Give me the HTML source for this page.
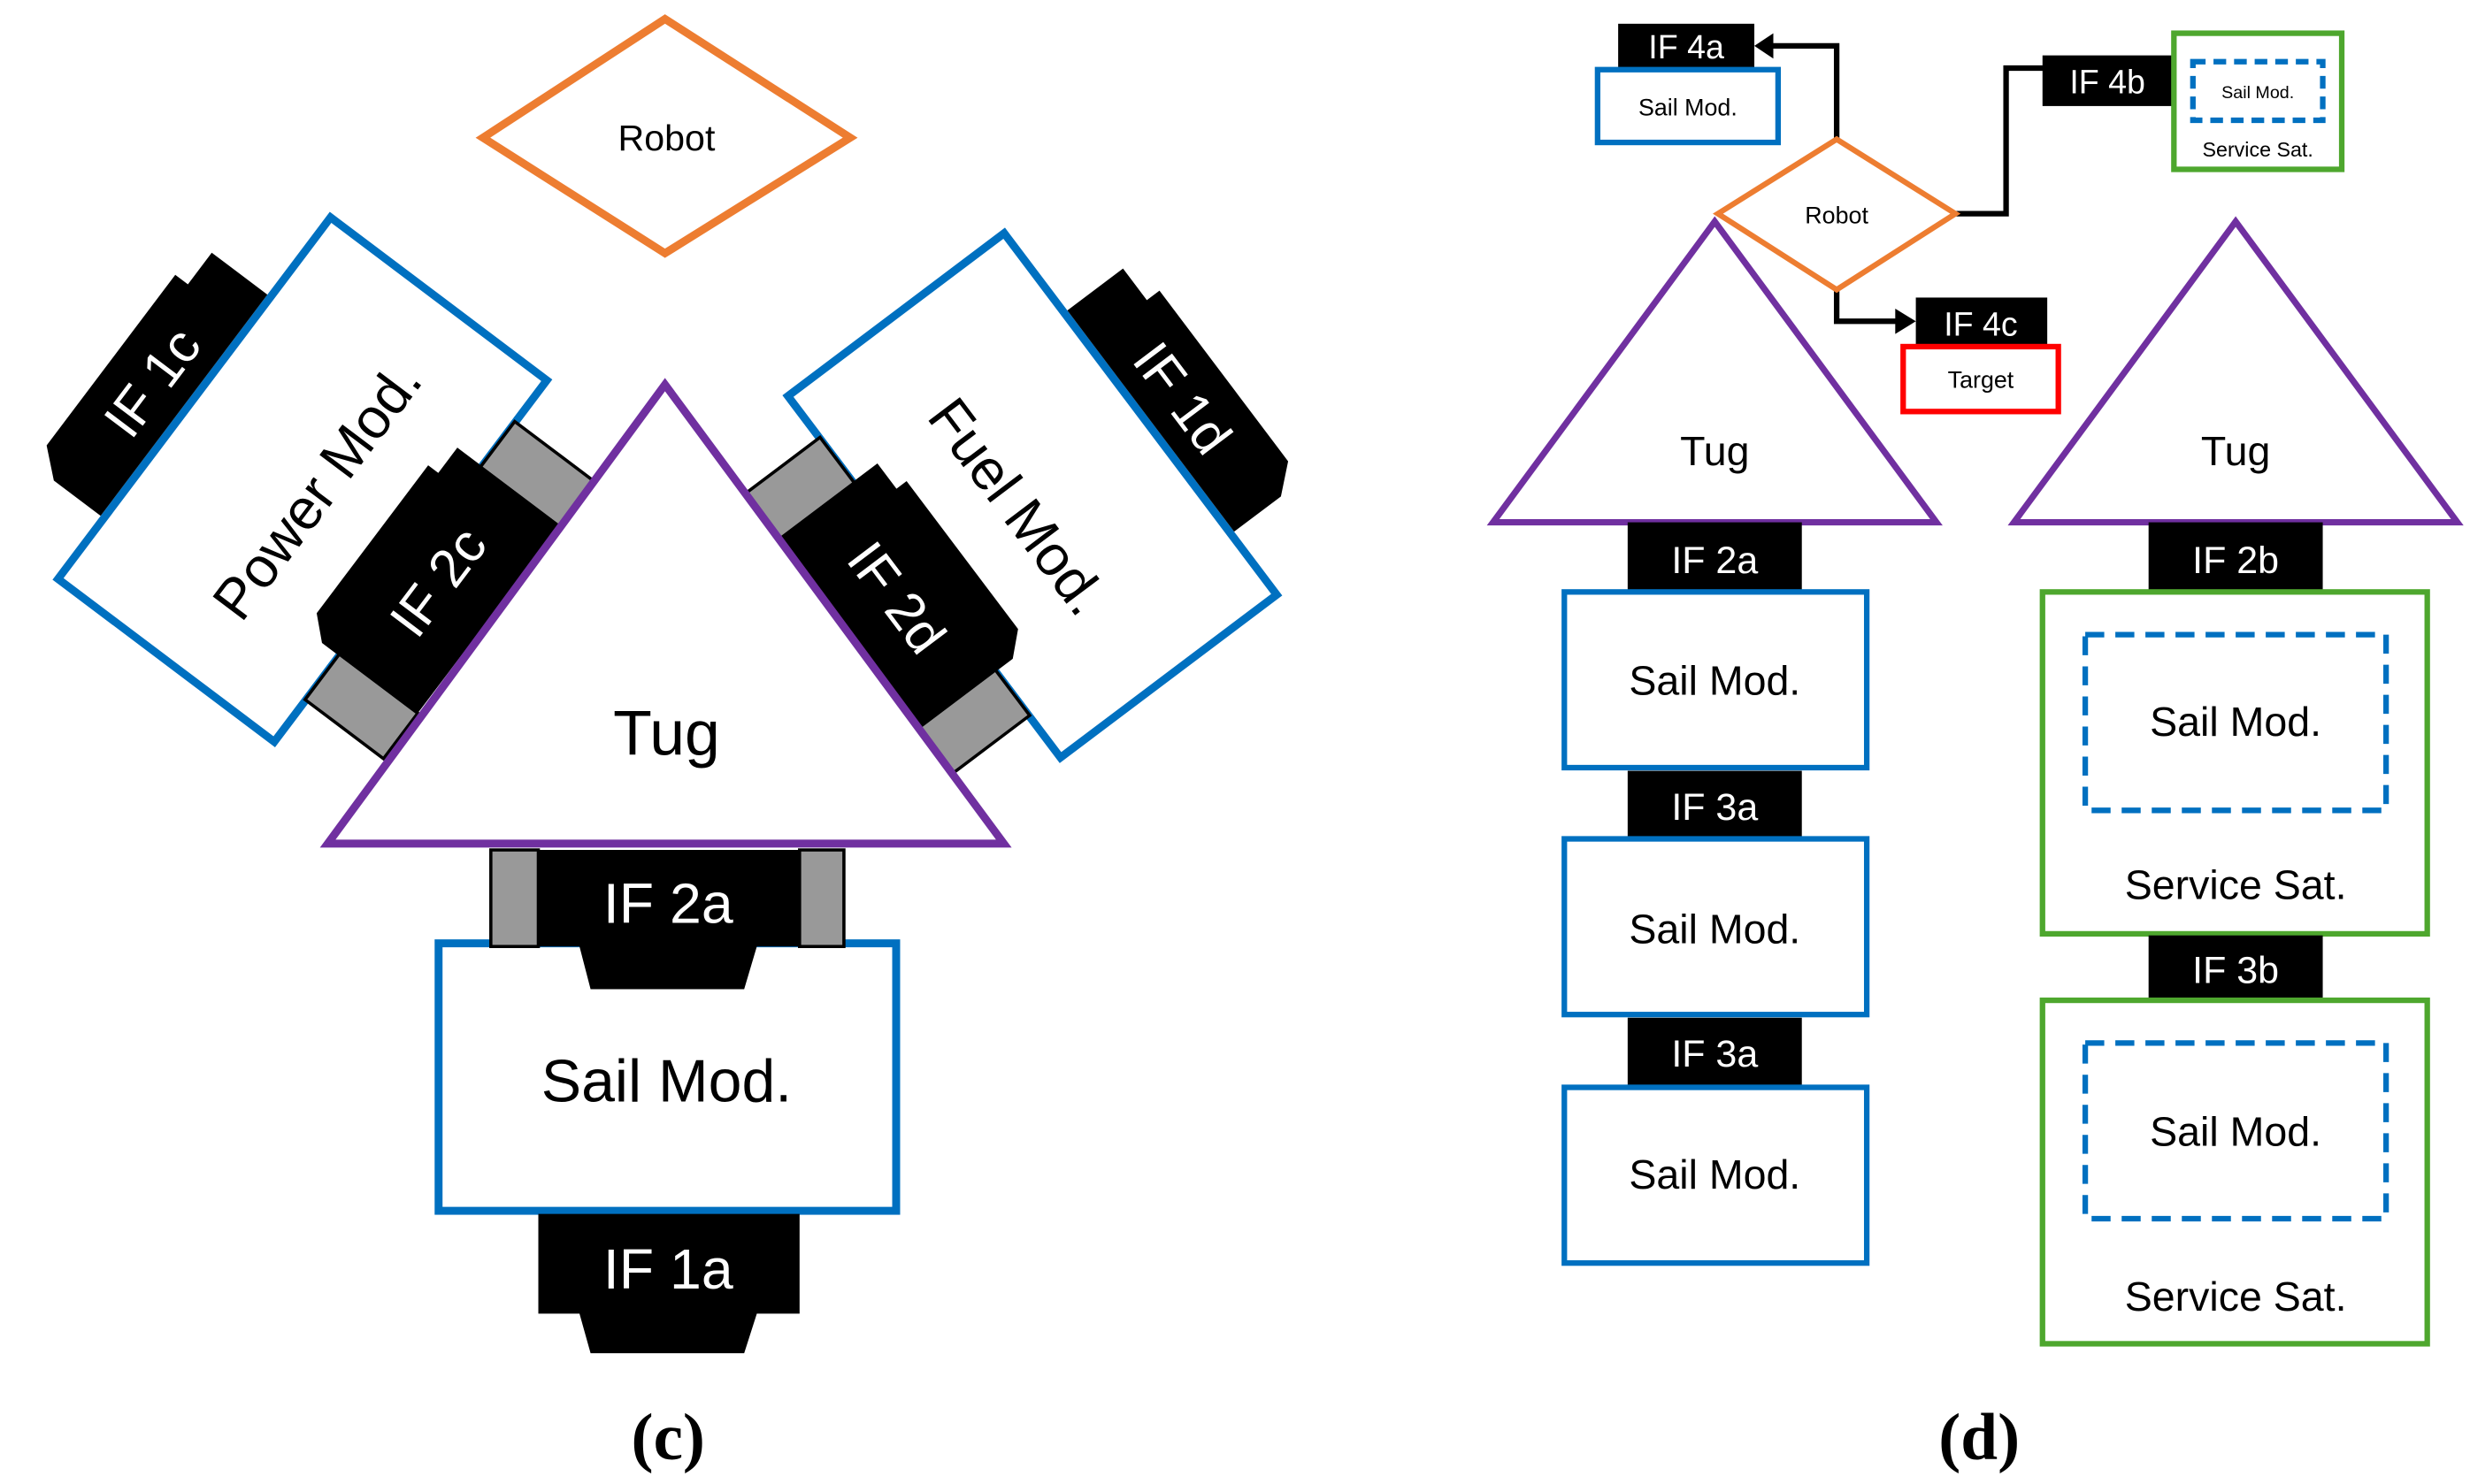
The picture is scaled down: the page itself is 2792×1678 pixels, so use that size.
<!DOCTYPE html>
<html><head><meta charset="utf-8"><style>
html,body{margin:0;padding:0;background:#fff;}
svg{display:block;}
text{font-family:"Liberation Sans",sans-serif;}
</style></head><body>
<svg width="2792" height="1678" viewBox="0 0 1560 937.6" preserveAspectRatio="none" xmlns="http://www.w3.org/2000/svg">
<rect width="1560" height="938" fill="#fff"/>
<defs>
<g id="modshapes">
  <rect x="-143" y="-85.5" width="286" height="171" fill="#fff" stroke="#0070c0" stroke-width="5"/>
  <polygon points="-95,-88 -95,-125 -80,-142 55,-142 55,-132 80,-132 80,-88" fill="#000"/>
  <rect x="-110" y="85" width="36" height="62" fill="#999" stroke="#000" stroke-width="2"/>
  <rect x="74" y="85" width="36" height="62" fill="#999" stroke="#000" stroke-width="2"/>
  <polygon points="-75,147 -75,72 -62,58 55,58 55,66 75,66 75,147" fill="#000"/>
</g>
</defs>

<!-- LEFT PANEL -->
<polygon points="305,87 420,12 537,87 420,160" fill="#fff" stroke="#ed7d31" stroke-width="5"/>
<text x="421" y="95" font-size="23" text-anchor="middle">Robot</text>

<g transform="translate(191,303) rotate(-53)">
  <use href="#modshapes"/>
  <text x="0" y="24" font-size="36" text-anchor="middle">Power Mod.</text>
  <text x="-8" y="-101" font-size="34" text-anchor="middle" fill="#fff">IF 1c</text>
  <text x="0" y="119" font-size="34" text-anchor="middle" fill="#fff">IF 2c</text>
</g>
<g transform="translate(652,313) rotate(53) scale(-1,1)">
  <use href="#modshapes"/>
</g>
<g transform="translate(652,313) rotate(53)">
  <text x="0" y="24" font-size="36" text-anchor="middle">Fuel Mod.</text>
  <text x="8" y="-101" font-size="34" text-anchor="middle" fill="#fff">IF 1d</text>
  <text x="0" y="119" font-size="34" text-anchor="middle" fill="#fff">IF 2d</text>
</g>

<polygon points="420,243 207,533 634,533" fill="#fff" stroke="#7030a0" stroke-width="5"/>
<text x="421" y="477" font-size="40" text-anchor="middle">Tug</text>

<rect x="277" y="596" width="289" height="169" fill="#fff" stroke="#0070c0" stroke-width="5"/>
<text x="421" y="696" font-size="38" text-anchor="middle">Sail Mod.</text>

<rect x="310" y="537" width="30" height="61" fill="#999" stroke="#000" stroke-width="2"/>
<rect x="505" y="537" width="28" height="61" fill="#999" stroke="#000" stroke-width="2"/>
<polygon points="340,537 505,537 505,598 478,598 470,625 373,625 366,598 340,598" fill="#000"/>
<text x="422" y="583" font-size="36" text-anchor="middle" fill="#fff">IF 2a</text>

<polygon points="340,767 505,767 505,830 478,830 470,855 373,855 366,830 340,830" fill="#000"/>
<text x="422" y="814" font-size="36" text-anchor="middle" fill="#fff">IF 1a</text>

<text x="422" y="922" font-size="42" font-weight="bold" text-anchor="middle" style="font-family:'Liberation Serif',serif">(c)</text>

<!-- RIGHT PANEL -->
<polygon points="1083,140 943,330 1223,330" fill="#fff" stroke="#7030a0" stroke-width="4"/>
<text x="1083" y="294" font-size="26" text-anchor="middle">Tug</text>
<polygon points="1412,140 1272,330 1552,330" fill="#fff" stroke="#7030a0" stroke-width="4"/>
<text x="1412" y="294" font-size="26" text-anchor="middle">Tug</text>

<polyline points="1160,88 1160,29 1118,29" fill="none" stroke="#000" stroke-width="3.5"/>
<polygon points="1108,29 1120,21 1120,37" fill="#000"/>
<polyline points="1235,135 1267,135 1267,43 1292,43" fill="none" stroke="#000" stroke-width="3.5"/>
<polyline points="1160,183 1160,203 1198,203" fill="none" stroke="#000" stroke-width="3.5"/>
<polygon points="1210,203 1197,195 1197,211" fill="#000"/>

<rect x="1022" y="15" width="86" height="28" fill="#000"/>
<text x="1065" y="37" font-size="21" text-anchor="middle" fill="#fff">IF 4a</text>
<rect x="1009" y="44" width="114" height="46" fill="#fff" stroke="#0070c0" stroke-width="3.5"/>
<text x="1066" y="73" font-size="15" text-anchor="middle">Sail Mod.</text>

<polygon points="1085,135 1160,88 1235,135 1160,183" fill="#fff" stroke="#ed7d31" stroke-width="3.5"/>
<text x="1160" y="141" font-size="15" text-anchor="middle">Robot</text>

<rect x="1290" y="35" width="82" height="32" fill="#000"/>
<text x="1331" y="59" font-size="21" text-anchor="middle" fill="#fff">IF 4b</text>
<rect x="1373" y="21" width="106" height="86" fill="#fff" stroke="#4ea72e" stroke-width="3.5"/>
<rect x="1385" y="39" width="82" height="37" fill="none" stroke="#0070c0" stroke-width="3.5" stroke-dasharray="8,5"/>
<text x="1426" y="62" font-size="11" text-anchor="middle">Sail Mod.</text>
<text x="1426" y="99" font-size="13" text-anchor="middle">Service Sat.</text>

<rect x="1210" y="188" width="83" height="31" fill="#000"/>
<text x="1251" y="212" font-size="21" text-anchor="middle" fill="#fff">IF 4c</text>
<rect x="1202" y="219" width="98" height="41" fill="#fff" stroke="#ff0000" stroke-width="3.5"/>
<text x="1251" y="245" font-size="15" text-anchor="middle">Target</text>

<rect x="1028" y="330" width="110" height="44" fill="#000"/>
<text x="1083" y="362" font-size="24" text-anchor="middle" fill="#fff">IF 2a</text>
<rect x="988" y="374" width="191" height="111" fill="#fff" stroke="#0070c0" stroke-width="3.5"/>
<text x="1083" y="439" font-size="26" text-anchor="middle">Sail Mod.</text>
<rect x="1028" y="487" width="110" height="42" fill="#000"/>
<text x="1083" y="518" font-size="24" text-anchor="middle" fill="#fff">IF 3a</text>
<rect x="988" y="530" width="191" height="111" fill="#fff" stroke="#0070c0" stroke-width="3.5"/>
<text x="1083" y="596" font-size="26" text-anchor="middle">Sail Mod.</text>
<rect x="1028" y="643" width="110" height="43" fill="#000"/>
<text x="1083" y="674" font-size="24" text-anchor="middle" fill="#fff">IF 3a</text>
<rect x="988" y="687" width="191" height="111" fill="#fff" stroke="#0070c0" stroke-width="3.5"/>
<text x="1083" y="751" font-size="26" text-anchor="middle">Sail Mod.</text>

<rect x="1357" y="330" width="110" height="44" fill="#000"/>
<text x="1412" y="362" font-size="24" text-anchor="middle" fill="#fff">IF 2b</text>
<rect x="1290" y="374" width="243" height="216" fill="#fff" stroke="#4ea72e" stroke-width="3.5"/>
<rect x="1317" y="401" width="190" height="111" fill="none" stroke="#0070c0" stroke-width="3.5" stroke-dasharray="12,7"/>
<text x="1412" y="465" font-size="26" text-anchor="middle">Sail Mod.</text>
<text x="1412" y="568" font-size="26" text-anchor="middle">Service Sat.</text>
<rect x="1357" y="591" width="110" height="41" fill="#000"/>
<text x="1412" y="621" font-size="24" text-anchor="middle" fill="#fff">IF 3b</text>
<rect x="1290" y="632" width="243" height="217" fill="#fff" stroke="#4ea72e" stroke-width="3.5"/>
<rect x="1317" y="659" width="190" height="111" fill="none" stroke="#0070c0" stroke-width="3.5" stroke-dasharray="12,7"/>
<text x="1412" y="724" font-size="26" text-anchor="middle">Sail Mod.</text>
<text x="1412" y="828" font-size="26" text-anchor="middle">Service Sat.</text>

<text x="1250" y="922" font-size="42" font-weight="bold" text-anchor="middle" style="font-family:'Liberation Serif',serif">(d)</text>
</svg>
</body></html>
